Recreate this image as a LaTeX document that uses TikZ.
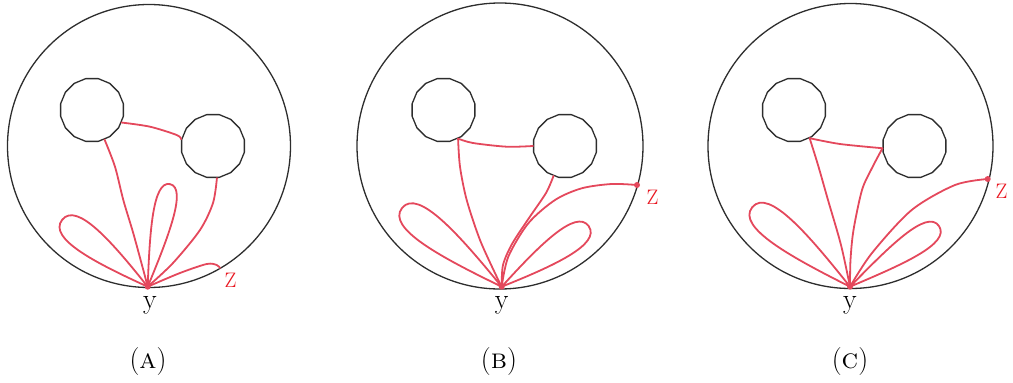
\documentclass[tikz,border=0pt]{standalone}
\usetikzlibrary{shapes.geometric}
\definecolor{strand}{RGB}{228,72,92}
\definecolor{zred}{RGB}{232,22,32}
\definecolor{ink}{RGB}{45,45,45}
% petal loop: origin, direction angle, length, inner width factor, outer width factor
\newcommand\petalloop[5]{%
  \draw[strandline,shift={#1},rotate=#2]
    (0,0) .. controls ({0.5*#3},{-#4*#3}) and ({#3},{-#5*#3}) .. (#3,0)
          .. controls ({#3},{#5*#3}) and ({0.5*#3},{#4*#3}) .. (0,0);}
\begin{document}
\begin{tikzpicture}[x=1pt,y=-1pt,
  outer/.style={circle,draw=ink,line width=1.3pt,inner sep=0pt},
  hole/.style={regular polygon,regular polygon sides=16,draw=ink,line width=1.3pt,inner sep=0pt,minimum size=64pt},
  strandline/.style={draw=strand,line width=1.8pt,line cap=round,line join=round},
  dotmark/.style={fill=strand},
  vlabel/.style={font=\fontsize{28}{32}\selectfont,anchor=base,inner sep=0pt},
  zlabel/.style={text=zred,font=\fontsize{21}{24}\selectfont,inner sep=0pt},
  caplabel/.style={font=\fontsize{28}{32}\selectfont,anchor=base,inner sep=0pt}]
\useasboundingbox (0,0) rectangle (1013,383);

% ---------------- (A) ----------------
\node[outer,minimum size=283pt] (oA) at (149,146) {};
\node[hole] (c1A) at (92,110) {};
\node[hole] (c2A) at (213,146) {};
\coordinate (yA) at (147.7,286.7);
\coordinate (zA) at (220,268);
\draw[strandline] plot[smooth] coordinates {(c1A.-23) (150,126.7) (176.7,135) (c2A.168)};
\draw[strandline] plot[smooth] coordinates {(c1A.-67) (115,166.7) (123.3,200) (133.3,233.3) (143.3,270) (yA)};
\draw[strandline] plot[smooth] coordinates {(c2A.-83) (213,203) (200,230) (173,263) (yA)};
\petalloop{(yA)}{142}{108.6}{0.12}{0.22}
\petalloop{(yA)}{77.7}{105}{0.09}{0.17}
\draw[strandline] plot[smooth] coordinates {(yA) (180,273) (206.7,264) (216.7,265) (zA)};
\fill[dotmark] (yA) circle (3pt);
\node[vlabel] (lyA) at (150,308) {y};
\node[zlabel] (lzA) at (230.5,280.5) {Z};
\node[caplabel] (capA) at (148,368) {(\textsc{a})};

% ---------------- (B) ----------------
\node[outer,minimum size=286pt] (oB) at (500,146) {};
\node[hole] (c1B) at (443.5,110) {};
\node[hole] (c2B) at (565,146) {};
\coordinate (yB) at (501.7,286.7);
\coordinate (zB) at (637,185);
\draw[strandline] plot[smooth] coordinates {(c1B.-63) (473,143) (506.7,146.7) (c2B.180)};
\draw[strandline] plot[smooth] coordinates {(c1B.-63) (460,166.7) (466.7,200) (480,240) (496.7,276.7) (yB)};
\draw[strandline] plot[smooth] coordinates {(c2B.-111) (546,193) (529,218) (512,244) (503,265) (yB)};
\draw[strandline] plot[smooth] coordinates {(yB) (508.3,256.7) (528.3,223.3) (555,200) (581.7,188.3) (611.7,184) (zB)};
\petalloop{(yB)}{141.7}{127}{0.11}{0.205}
\petalloop{(yB)}{34.8}{106}{0.115}{0.21}
\fill[dotmark] (yB) circle (3pt);
\fill[dotmark] (zB) circle (3pt);
\node[vlabel] (lyB) at (501.7,308) {y};
\node[zlabel] (lzB) at (652.5,197) {Z};
\node[caplabel] (capB) at (499,368) {(\textsc{b})};

% ---------------- (C) ----------------
\node[outer,minimum size=285pt] (oC) at (850.5,146) {};
\node[hole] (c1C) at (794,110) {};
\node[hole] (c2C) at (914.5,146) {};
\coordinate (yC) at (850,286.7);
\coordinate (zC) at (987.7,179);
\draw[strandline] plot[smooth] coordinates {(c1C.-61) (840,144) (c2C.184)};
\draw[strandline] plot[smooth] coordinates {(c1C.-61) (818,165) (828,200) (841,245) (yC)};
\draw[strandline] plot[smooth] coordinates {(c2C.184) (872,168) (862,190) (853.5,230) (850.5,260) (yC)};
\draw[strandline] plot[smooth] coordinates {(yC) (872,253) (911.7,210) (955,185) (zC)};
\petalloop{(yC)}{140.9}{126}{0.11}{0.205}
\petalloop{(yC)}{34.3}{107.7}{0.10}{0.20}
\fill[dotmark] (yC) circle (3pt);
\fill[dotmark] (zC) circle (3pt);
\node[vlabel] (lyC) at (850,308) {y};
\node[zlabel] (lzC) at (1001.5,191) {Z};
\node[caplabel] (capC) at (850,368) {(\textsc{c})};
\end{tikzpicture}
\end{document}
